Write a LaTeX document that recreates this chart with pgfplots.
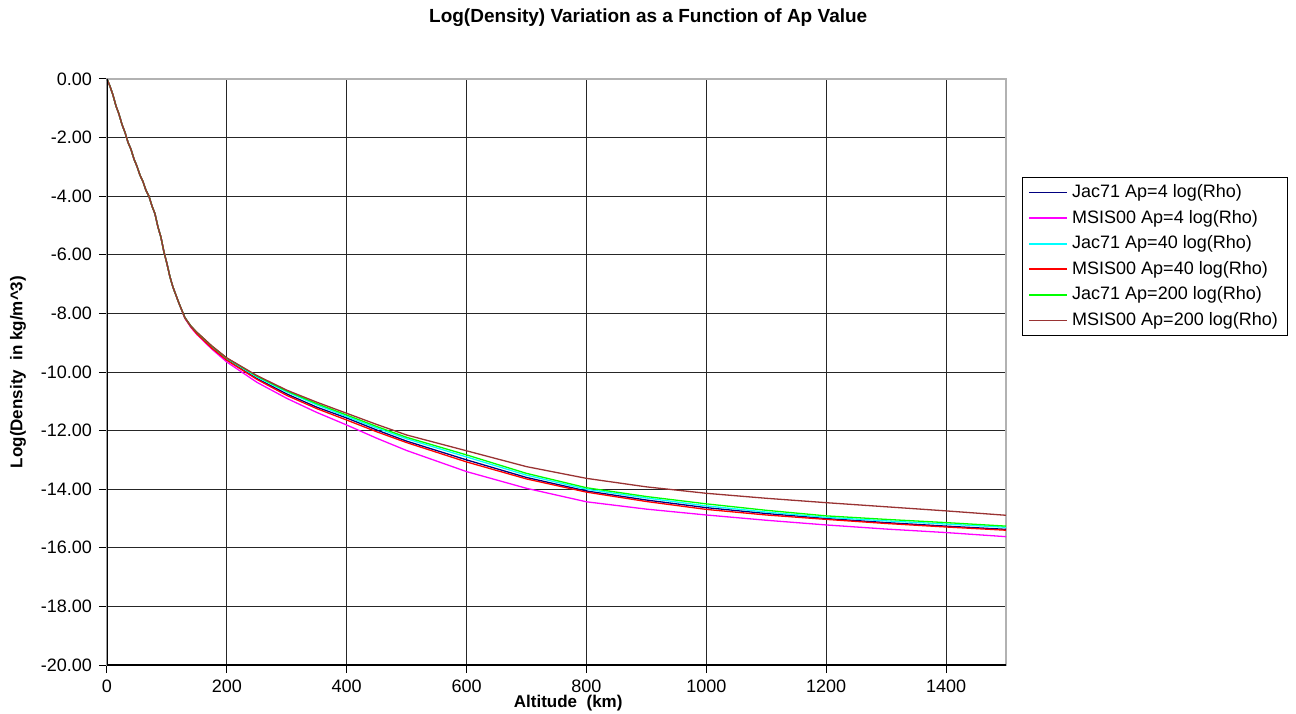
\documentclass[border=0pt]{standalone}
\usepackage{fontspec}
\setmainfont{Liberation Sans}
\usepackage{pgfplots}
\usepackage{pgfplotstable}
\pgfplotsset{compat=1.18}

\definecolor{jfour}{HTML}{000080}
\definecolor{mfour}{HTML}{FF00FF}
\definecolor{jforty}{HTML}{00FFFF}
\definecolor{mforty}{HTML}{FF0000}
\definecolor{jtwoh}{HTML}{00FF00}
\definecolor{mtwoh}{HTML}{993333}

% altitude (km), log10 density for each model / Ap value
\pgfplotstableread{
alt   jfour   mfour   jforty  mforty  jtwoh   mtwoh
0     0.00    0.00    0.00    0.00    0.00    0.00
5    -0.25   -0.25   -0.25   -0.25   -0.25   -0.25
10   -0.55   -0.55   -0.55   -0.55   -0.55   -0.55
15   -0.92   -0.92   -0.92   -0.92   -0.92   -0.92
20   -1.20   -1.20   -1.20   -1.20   -1.20   -1.20
25   -1.55   -1.55   -1.55   -1.55   -1.55   -1.55
30   -1.82   -1.82   -1.82   -1.82   -1.82   -1.82
35   -2.16   -2.16   -2.16   -2.16   -2.16   -2.16
40   -2.40   -2.40   -2.40   -2.40   -2.40   -2.40
45   -2.73   -2.73   -2.73   -2.73   -2.73   -2.73
50   -2.98   -2.98   -2.98   -2.98   -2.98   -2.98
55   -3.28   -3.28   -3.28   -3.28   -3.28   -3.28
60   -3.50   -3.50   -3.50   -3.50   -3.50   -3.50
65   -3.80   -3.80   -3.80   -3.80   -3.80   -3.80
70   -4.00   -4.00   -4.00   -4.00   -4.00   -4.00
75   -4.33   -4.33   -4.33   -4.33   -4.33   -4.33
80   -4.60   -4.60   -4.60   -4.60   -4.60   -4.60
85   -5.05   -5.05   -5.05   -5.05   -5.05   -5.05
90   -5.40   -5.40   -5.40   -5.40   -5.40   -5.40
95   -5.90   -5.90   -5.90   -5.90   -5.90   -5.90
100  -6.30   -6.30   -6.30   -6.30   -6.30   -6.30
105  -6.75   -6.75   -6.75   -6.75   -6.75   -6.75
110  -7.10   -7.10   -7.10   -7.10   -7.10   -7.10
120  -7.65   -7.65   -7.65   -7.65   -7.65   -7.65
130  -8.15   -8.17   -8.15   -8.16   -8.14   -8.14
140  -8.45   -8.48   -8.44   -8.46   -8.43   -8.43
150  -8.68   -8.72   -8.66   -8.70   -8.65   -8.64
175  -9.17   -9.22   -9.14   -9.19   -9.12   -9.11
200  -9.58   -9.66   -9.55   -9.60   -9.53   -9.52
250  -10.22  -10.35  -10.17  -10.25  -10.14  -10.12
300  -10.75  -10.90  -10.68  -10.80  -10.65  -10.62
350  -11.20  -11.38  -11.12  -11.25  -11.08  -11.03
400  -11.57  -11.81  -11.52  -11.64  -11.47  -11.41
450  -11.98  -12.26  -11.91  -12.04  -11.86  -11.79
500  -12.36  -12.68  -12.28  -12.41  -12.23  -12.15
600  -13.00  -13.40  -12.90  -13.07  -12.83  -12.69
700  -13.60  -13.97  -13.52  -13.65  -13.46  -13.23
800  -14.06  -14.43  -14.00  -14.10  -13.95  -13.63
900  -14.37  -14.68  -14.30  -14.42  -14.25  -13.92
1000 -14.63  -14.88  -14.57  -14.69  -14.50  -14.14
1100 -14.83  -15.06  -14.78  -14.88  -14.72  -14.31
1200 -15.00  -15.22  -14.96  -15.03  -14.91  -14.46
1300 -15.14  -15.36  -15.08  -15.17  -15.03  -14.60
1400 -15.26  -15.48  -15.19  -15.29  -15.14  -14.74
1500 -15.37  -15.62  -15.30  -15.40  -15.26  -14.89
}\dens

\begin{document}
\begin{tikzpicture}
% page = 1296 x 713 px, 1 px = 0.5 pt, axis south west at px (107,665)
\path[use as bounding box] (-53.5pt,-24pt) rectangle (594.5pt,332.5pt);
\begin{axis}[
    at={(0,0)}, anchor=south west,
    scale only axis,
    width=449.5pt, height=293pt,
    xmin=0, xmax=1500, ymin=-20, ymax=0,
    xtick={0,200,...,1400},
    ytick={-20,-18,...,0},
    grid=major,
    major grid style={black!85, line width=0.5pt},
    axis line style={gray!60, line width=0.7pt},
    tick align=outside, tick pos=left,
    major tick length=4pt,
    tick style={black, line width=0.5pt},
    /pgf/number format/assume math mode=true,
    yticklabel style={/pgf/number format/.cd, fixed, fixed zerofill, precision=2},
    xticklabel style={/pgf/number format/.cd, fixed, 1000 sep={}},
    ticklabel style={font=\fontsize{9}{10}\selectfont},
    xlabel={\textbf{Altitude\ \ (km)}},
    ylabel={\textbf{Log(Density\ \ in kg/m\textasciicircum3)}},
    label style={font=\fontsize{8.5}{10}\selectfont},
    xlabel style={at={(rel axis cs:0.513,-0.065)}, anchor=center},
    ylabel style={at={(rel axis cs:-0.099,0.5)}, anchor=center},
    title={\textbf{Log(Density) Variation as a Function of Ap Value}},
    title style={font=\fontsize{9.5}{11}\selectfont, at={(rel axis cs:0.602,1.104)},
        anchor=center, yshift=-6pt},
    legend style={at={(rel axis cs:1.0178,0.833)}, anchor=north west,
        draw=black, line width=0.5pt, font=\fontsize{9}{10}\selectfont,
        row sep=0.8pt, inner xsep=3pt, inner ysep=1.5pt},
    legend cell align=left,
    legend image code/.code={\draw[#1, line width=0.85pt] (0pt,0pt) -- (19pt,0pt);},
    every axis plot/.append style={line width=0.65pt},
]
\addplot[color=jfour, no markers] table[x=alt, y=jfour] {\dens};
\addlegendentry{Jac71 Ap=4 log(Rho)}
\addplot[color=mfour, no markers] table[x=alt, y=mfour] {\dens};
\addlegendentry{MSIS00 Ap=4 log(Rho)}
\addplot[color=jforty, no markers] table[x=alt, y=jforty] {\dens};
\addlegendentry{Jac71 Ap=40 log(Rho)}
\addplot[color=mforty, no markers] table[x=alt, y=mforty] {\dens};
\addlegendentry{MSIS00 Ap=40 log(Rho)}
\addplot[color=jtwoh, no markers] table[x=alt, y=jtwoh] {\dens};
\addlegendentry{Jac71 Ap=200 log(Rho)}
\addplot[color=mtwoh, no markers] table[x=alt, y=mtwoh] {\dens};
\addlegendentry{MSIS00 Ap=200 log(Rho)}
\draw[black, line width=0.7pt] (rel axis cs:0,1) -- (rel axis cs:0,0) -- (rel axis cs:1,0);
\end{axis}
\end{tikzpicture}
\end{document}
